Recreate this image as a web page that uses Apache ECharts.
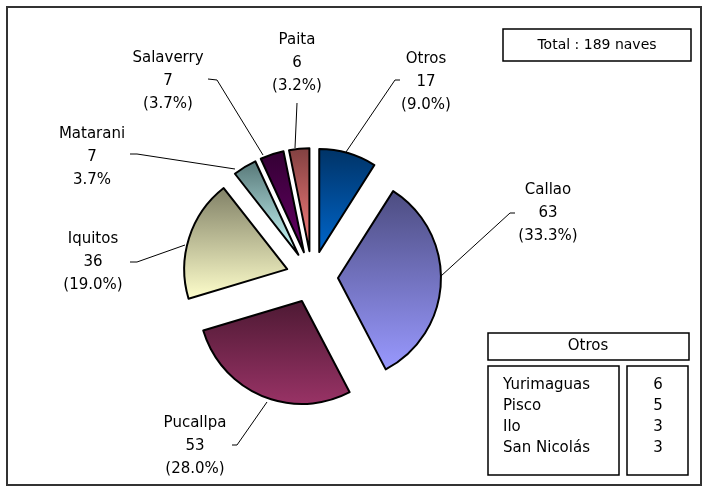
<!DOCTYPE html>
<html>
<head>
<meta charset="utf-8">
<script src="https://cdn.jsdelivr.net/npm/echarts@6/dist/echarts.min.js"></script>
<style>
  html, body { margin: 0; padding: 0; background: #fff; }
  #grid { width: 704px; height: 488px; }
</style>
</head>
<body>
<div id="grid"></div>
<script>
const puertos = ['Otros', 'Callao', 'Pucallpa', 'Iquitos', 'Matarani', 'Salaverry', 'Paita'];
const naves = [17, 63, 53, 36, 7, 7, 6];
const otrosPuertos = ['Yurimaguas', 'Pisco', 'Ilo', 'San Nicolás'];
const otrosNaves = [6, 5, 3, 3];

// colores base (abajo) y oscuros (arriba) del degradado
const coloresBase = ['#0066CC', '#9999FF', '#993366', '#FFFFCC', '#CCFFFF', '#660066', '#FF8080'];
const coloresTope = ['#003366', '#4C4C80', '#4D1933', '#808066', '#567676', '#330033', '#804040'];

// posicion de etiquetas y lineas guia
const labelPos = [
  { x: 426, y: 82, line: [[346, 152], [395, 80], [400, 80]] },
  { x: 548, y: 213, line: [[441, 276], [510, 213], [515, 213]] },
  { x: 195, y: 446, line: [[267, 402], [237, 445], [232, 445]] },
  { x: 93, y: 262, line: [[185, 245], [137, 262], [130, 262]] },
  { x: 92, y: 157, line: [[235, 169], [137, 154], [130, 154]] },
  { x: 168, y: 81, line: [[263, 155], [217, 80], [208, 79]] },
  { x: 297, y: 63, line: [[295, 148], [297, 103]] },
];

const FONT = 'DejaVu Sans';
const total = naves.reduce((a, b) => a + b, 0);

const myChart = echarts.init(document.getElementById('grid'));

const pieData = puertos.map((name, i) => ({
  name: name,
  value: naves[i],
  selected: true,
  itemStyle: {
    color: new echarts.graphic.LinearGradient(0, 0, 0, 1, [
      { offset: 0, color: coloresTope[i] },
      { offset: 1, color: coloresBase[i] },
    ]),
  },
}));

function labelText(i) {
  const pct = ((naves[i] / total) * 100).toFixed(1) + '%';
  if (puertos[i] === 'Matarani') {
    return puertos[i] + '\n' + naves[i] + '\n' + pct;
  }
  return puertos[i] + '\n' + naves[i] + '\n(' + pct + ')';
}

const rowY = [385, 406, 427, 448];

const graphics = [
  {
    type: 'rect',
    shape: { x: 7, y: 7, width: 694, height: 478 },
    style: { fill: 'none', stroke: '#333', lineWidth: 2 },
  },
  {
    type: 'rect',
    shape: { x: 503, y: 29, width: 188, height: 32 },
    style: { fill: '#fff', stroke: '#000', lineWidth: 1.5 },
  },
  {
    type: 'text',
    x: 597,
    y: 45,
    style: {
      text: 'Total : ' + total + ' naves',
      font: '14px "' + FONT + '"',
      fill: '#000',
      align: 'center',
      verticalAlign: 'middle',
    },
  },
  {
    type: 'rect',
    shape: { x: 488, y: 333, width: 201, height: 27 },
    style: { fill: '#fff', stroke: '#000', lineWidth: 1.5 },
  },
  {
    type: 'text',
    x: 588,
    y: 346,
    style: {
      text: 'Otros',
      font: '15px "' + FONT + '"',
      fill: '#000',
      align: 'center',
      verticalAlign: 'middle',
    },
  },
  {
    type: 'rect',
    shape: { x: 488, y: 366, width: 131, height: 109 },
    style: { fill: '#fff', stroke: '#000', lineWidth: 1.5 },
  },
  {
    type: 'rect',
    shape: { x: 627, y: 366, width: 61, height: 109 },
    style: { fill: '#fff', stroke: '#000', lineWidth: 1.5 },
  },
];

otrosPuertos.forEach((name, i) => {
  graphics.push({
    type: 'text',
    x: 503,
    y: rowY[i],
    style: {
      text: name,
      font: '15px "' + FONT + '"',
      fill: '#000',
      align: 'left',
      verticalAlign: 'middle',
    },
  });
  graphics.push({
    type: 'text',
    x: 658,
    y: rowY[i],
    style: {
      text: String(otrosNaves[i]),
      font: '15px "' + FONT + '"',
      fill: '#000',
      align: 'center',
      verticalAlign: 'middle',
    },
  });
});

// etiquetas del pie con sus lineas guia
puertos.forEach((name, i) => {
  const p = labelPos[i];
  graphics.push({
    type: 'polyline',
    shape: { points: p.line },
    style: { fill: 'none', stroke: '#000', lineWidth: 1 },
  });
  graphics.push({
    type: 'text',
    x: p.x,
    y: p.y,
    style: {
      text: labelText(i),
      font: '15px "' + FONT + '"',
      lineHeight: 23,
      fill: '#000',
      align: 'center',
      verticalAlign: 'middle',
    },
  });
});

const option = {
  animation: false,
  graphic: graphics,
  series: [
    {
      type: 'pie',
      center: [312, 277],
      radius: 103,
      startAngle: 90,
      clockwise: true,
      selectedMode: 'multiple',
      selectedOffset: 26,
      emphasis: { disabled: true },
      label: { show: false },
      labelLine: { show: false },
      itemStyle: {
        borderColor: '#000',
        borderWidth: 2,
      },
      select: {
        itemStyle: {
          borderColor: '#000',
          borderWidth: 2,
        },
      },
      data: pieData,
    },
  ],
};

myChart.setOption(option);
</script>
</body>
</html>
